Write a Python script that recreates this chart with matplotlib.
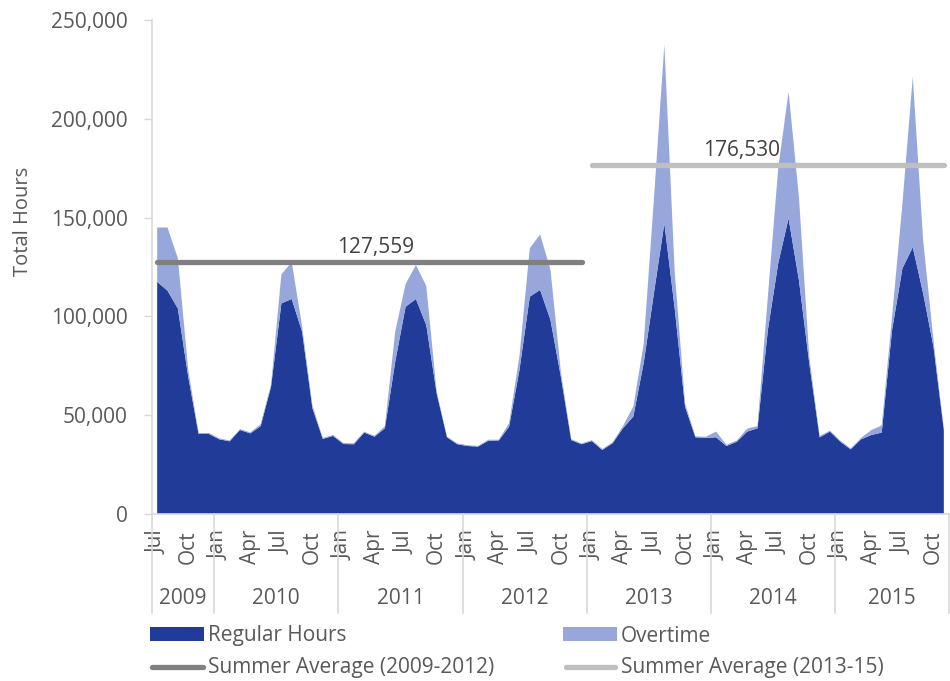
import numpy as np
import matplotlib
matplotlib.use("Agg")
import matplotlib.pyplot as plt
from matplotlib.patches import Rectangle
from matplotlib.lines import Line2D
import matplotlib.transforms as mtransforms

plt.rcParams['font.family'] = ['Open Sans', 'DejaVu Sans']

# ---------------- data ----------------
years = ["2009", "2010", "2011", "2012", "2013", "2014", "2015"]
month_names = ["Jan", "Feb", "Mar", "Apr", "May", "Jun",
               "Jul", "Aug", "Sep", "Oct", "Nov", "Dec"]
# Jul 2009 .. Nov 2015
regular_hours = [
    117500, 113000, 104000, 69500, 40500, 40500,                              # 2009 Jul-Dec
    37800, 36800, 42500, 40800, 44500, 64400, 106600, 108800, 92300, 53500, 38000, 39500,   # 2010
    35400, 35300, 41200, 39100, 43400, 77100, 104900, 108800, 95600, 61100, 38800, 35300,   # 2011
    34400, 34100, 37100, 37200, 44200, 72900, 110000, 113400, 98200, 69500, 37400, 35300,   # 2012
    36900, 32400, 35800, 43400, 49300, 76300, 112000, 147100, 104000, 54300, 38800, 38600,  # 2013
    38800, 34400, 36600, 41700, 43400, 93100, 126900, 149600, 118400, 76300, 38800, 41700,  # 2014
    36600, 32700, 37800, 40000, 41200, 93100, 124300, 135000, 111700, 84700, 42500,         # 2015 Jan-Nov
]
total_hours = [
    145000, 145000, 129400, 73000, 41000, 41000,
    38300, 37200, 43000, 41300, 45500, 65500, 121300, 127500, 95000, 55000, 38500, 40000,
    35900, 35800, 41700, 39600, 44500, 92300, 116400, 126000, 115400, 62000, 39200, 35700,
    34800, 34500, 37600, 37600, 46000, 80000, 134500, 141500, 123500, 72000, 37900, 35700,
    37400, 32900, 36300, 44500, 54300, 86000, 160000, 237400, 122500, 56000, 39300, 39100,
    41700, 35000, 37200, 43200, 44500, 110000, 175000, 213700, 160600, 79600, 39500, 42200,
    37100, 33200, 38500, 42500, 44800, 100000, 157000, 221300, 138700, 88000, 43000,
]
overtime_hours = [t - r for t, r in zip(total_hours, regular_hours)]

summer_avg_2009_2012 = 127559
summer_avg_2013_2015 = 176530

# category labels (month, year) for each data point
categories = []
for m in range(6, 12):
    categories.append((month_names[m], "2009"))
for y in years[1:]:
    for m in range(12):
        categories.append((month_names[m], y))
categories = categories[:len(regular_hours)]

# ---------------- figure ----------------
W, H = 950, 681
fig = plt.figure(figsize=(W / 100, H / 100), dpi=100)
ax_left, ax_right, ax_top, ax_bottom = 152, 949, 20, 514
ax = fig.add_axes([ax_left / W, 1 - ax_bottom / H, (ax_right - ax_left) / W, (ax_bottom - ax_top) / H])

n = len(regular_hours)
x = np.arange(n) + 0.5
c_reg = '#203C98'
c_ot = '#97A7DC'
ax.stackplot(x, regular_hours, overtime_hours, colors=[c_reg, c_ot], linewidth=0)

# summer averages
idx_split = [i for i, c in enumerate(categories) if c == ("Jan", "2013")][0]
ax.plot([x[0], x[idx_split - 1]], [summer_avg_2009_2012] * 2, color='#808080', lw=3.8,
        solid_capstyle='round', zorder=5)
ax.plot([x[idx_split], x[-1]], [summer_avg_2013_2015] * 2, color='#BFBFBF', lw=3.8,
        solid_capstyle='round', zorder=5)
ax.text(21.6, 134800, f"{summer_avg_2009_2012:,}", ha='center', va='center', fontsize=15, color='#404040', zorder=6)
ax.text(57.0, 184200, f"{summer_avg_2013_2015:,}", ha='center', va='center', fontsize=15, color='#404040', zorder=6)

ax.set_xlim(0, n)
ax.set_ylim(0, 250000)

# y axis
ax.set_yticks(np.arange(0, 250001, 50000))
ax.set_yticklabels([f"{v:,}" for v in range(0, 250001, 50000)])
ax.tick_params(axis='y', length=5.5, width=1, color='#D9D9D9', pad=12, labelsize=15, labelcolor='#595959')

# x axis month labels
xt = [x[i] for i, c in enumerate(categories) if c[0] in ("Jan", "Apr", "Jul", "Oct")]
xl = [c[0] for c in categories if c[0] in ("Jan", "Apr", "Jul", "Oct")]
ax.set_xticks(xt)
ax.set_xticklabels(xl, rotation=90)
ax.tick_params(axis='x', length=0, pad=11.5, labelsize=15, labelcolor='#595959')

for s in ['top', 'right']:
    ax.spines[s].set_visible(False)
ax.spines['left'].set_color('#D9D9D9')
ax.spines['bottom'].set_color('#D9D9D9')
ax.spines['left'].set_linewidth(1.2)
ax.spines['bottom'].set_linewidth(1.2)

# group separators and year labels
trans = mtransforms.blended_transform_factory(ax.transData, ax.transAxes)
bounds = [0]
for i in range(1, n):
    if categories[i][1] != categories[i - 1][1]:
        bounds.append(i)
bounds.append(n)
sep_bottom = (ax_bottom - 613) / (ax_bottom - ax_top)
for b in bounds:
    ax.plot([b, b], [0, sep_bottom], transform=trans, color='#D9D9D9', lw=1.2, clip_on=False)
year_y = (ax_bottom - 598) / (ax_bottom - ax_top)
for k in range(len(bounds) - 1):
    ax.text((bounds[k] + bounds[k + 1]) / 2, year_y, categories[bounds[k]][1], transform=trans,
            ha='center', va='center', fontsize=15, color='#595959')

# y label
fig.text(23 / W, 1 - 221 / H, "Total Hours", rotation=90, ha='center', va='center', fontsize=14.5, color='#595959')

# legend (manual)
def fx(px):
    return px / W

def fy(py):
    return 1 - py / H

fig.patches.append(Rectangle((fx(150), fy(641)), (204 - 150) / W, 14 / H, transform=fig.transFigure,
                             facecolor=c_reg, edgecolor='none'))
fig.patches.append(Rectangle((fx(563), fy(641)), (617 - 563) / W, 14 / H, transform=fig.transFigure,
                             facecolor=c_ot, edgecolor='none'))
fig.lines.append(Line2D([fx(152), fx(203)], [fy(667), fy(667)], transform=fig.transFigure,
                        color='#808080', lw=3.8, solid_capstyle='round'))
fig.lines.append(Line2D([fx(566), fx(615)], [fy(667), fy(667)], transform=fig.transFigure,
                        color='#BFBFBF', lw=3.8, solid_capstyle='round'))
fig.text(fx(208), fy(636), "Regular Hours", ha='left', va='center', fontsize=15, color='#595959')
fig.text(fx(621), fy(636), "Overtime", ha='left', va='center', fontsize=15, color='#595959')
fig.text(fx(208), fy(668), "Summer Average (2009-2012)", ha='left', va='center', fontsize=15, color='#595959')
fig.text(fx(621), fy(668), "Summer Average (2013-15)", ha='left', va='center', fontsize=15, color='#595959')

fig.savefig("out.png", dpi=100)
